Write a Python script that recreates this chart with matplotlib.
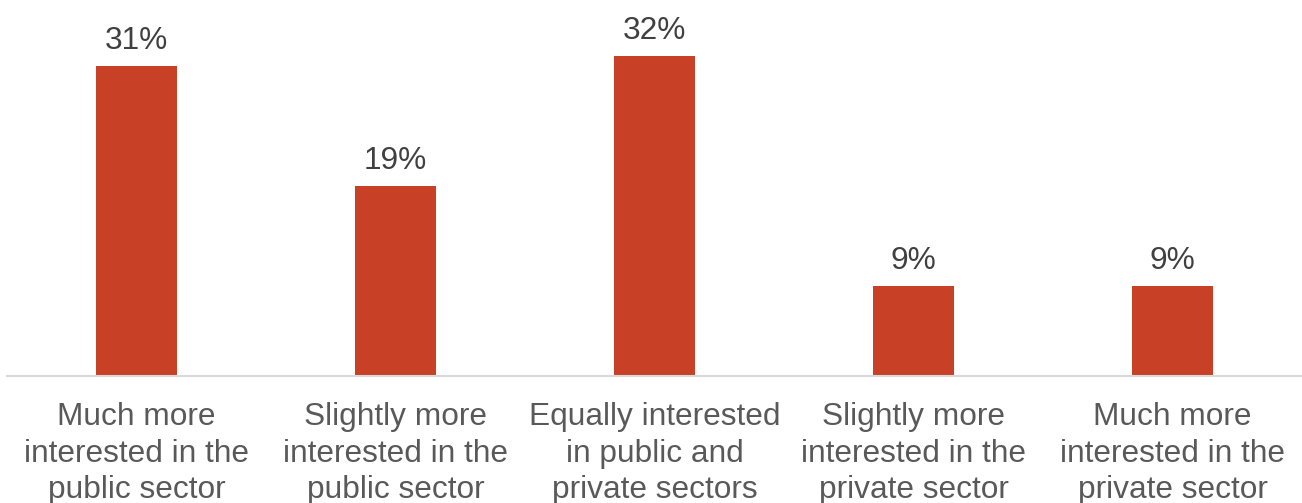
import matplotlib
matplotlib.use("Agg")
import matplotlib.pyplot as plt

categories = [
    "Much more\ninterested in the\npublic sector",
    "Slightly more\ninterested in the\npublic sector",
    "Equally interested\nin public and\nprivate sectors",
    "Slightly more\ninterested in the\nprivate sector",
    "Much more\ninterested in the\nprivate sector",
]
values = [31, 19, 32, 9, 9]
value_labels = ["31%", "19%", "32%", "9%", "9%"]

bar_color = "#C84025"
label_color = "#595959"
value_color = "#404040"

plt.rcParams["font.family"] = ["Liberation Sans", "DejaVu Sans"]

W, H, DPI = 1302, 503, 100
fig = plt.figure(figsize=(W / DPI, H / DPI), dpi=DPI)
ax = fig.add_axes([7 / W, 127 / H, 1295 / W, 376 / H])

x = list(range(len(categories)))
bars = ax.bar(x, values, width=0.31, color=bar_color, zorder=2)

ax.set_xlim(-0.5, len(categories) - 0.5)
ax.set_ylim(0, 37.6)

for rect, txt in zip(bars, value_labels):
    ax.annotate(txt, (rect.get_x() + rect.get_width() / 2, rect.get_height()),
                xytext=(0, 7), textcoords="offset points",
                ha="center", va="bottom", fontsize=22.8, color=value_color)

ax.set_xticks(x)
ax.set_xticklabels(categories, fontsize=22.8, color=label_color, linespacing=1.27)
ax.tick_params(axis="x", length=0, pad=19)
ax.set_yticks([])

for side in ["top", "right", "left"]:
    ax.spines[side].set_visible(False)
ax.spines["bottom"].set_color("#D9D9D9")
ax.spines["bottom"].set_linewidth(1.5)

fig.savefig("out.png", dpi=DPI)
